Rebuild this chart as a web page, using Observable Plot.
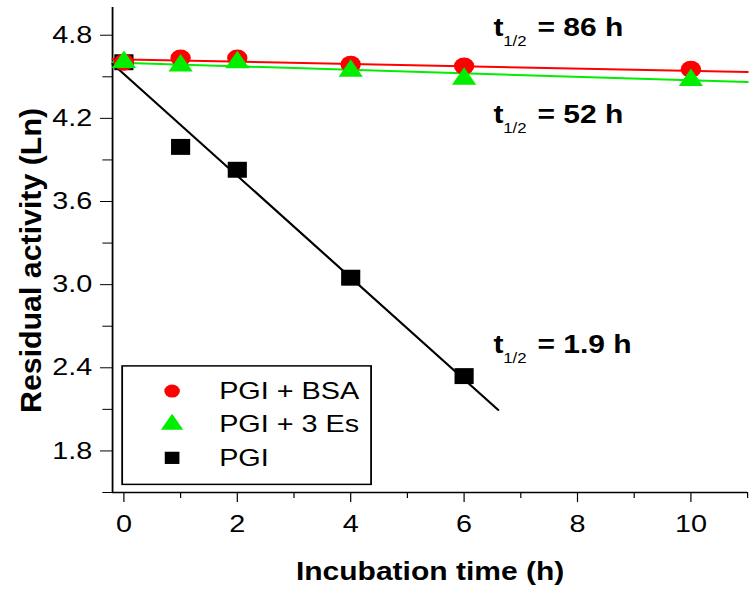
<!DOCTYPE html>
<html><head><meta charset="utf-8">
<script src="https://cdn.jsdelivr.net/npm/d3@7"></script>
<script src="https://cdn.jsdelivr.net/npm/@observablehq/plot@0.6"></script>
<style>
html,body{margin:0;padding:0;background:#fff;overflow:hidden;}
#wrap{width:630px;height:594px;transform:scaleX(1.2);transform-origin:0 0;}
</style></head><body><div id="wrap"></div>
<script>
// ---- data ----
const times = [0, 1, 2, 4, 6, 10];
const bsaValues = [4.605, 4.635, 4.635, 4.59, 4.577, 4.555];
const esValues = [4.605, 4.58, 4.604, 4.543, 4.485, 4.476];
const pgiTimes = [0, 1, 2, 4, 6];
const pgiValues = [4.605, 3.994, 3.829, 3.05, 2.34];
const seriesNames = ["PGI + BSA", "PGI + 3 Es", "PGI"];
const fitBsaX = [-0.2, 11], fitBsaY = [4.627, 4.534];
const fitEsX = [-0.2, 11], fitEsY = [4.603, 4.462];
const fitPgiX = [-0.2, 6.6], fitPgiY = [4.593, 2.096];
const halfLives = ["86", "52", "1.9"];
const xTicks = [0, 2, 4, 6, 8, 10];
const xMinorTicks = [1, 3, 5, 7, 9, 11];
const yTicks = [1.8, 2.4, 3.0, 3.6, 4.2, 4.8];
const yMinorTicks = [1.5, 2.1, 2.7, 3.3, 3.9, 4.5];
const xLabel = "Incubation time (h)";
const yLabel = "Residual activity (Ln)";

// ---- styles / layout ----
const colors = ["#ff0000", "#00ee00", "#000000"];
const symbols = ["circle", "triangle", "square"];
const markerR = [8.5, 7.5, 9];
const legendR = [6.5, 6.9, 6.9];
const annoPos = [{x: 6.52, y: 4.793}, {x: 6.52, y: 4.167}, {x: 6.52, y: 2.505}];
const legendBox = {x1: -0.02, x2: 4.37, y1: 1.555, y2: 2.41};
const legendMarkerX = 0.85, legendTextX = 1.68, legendTopY = 2.232, legendStep = 0.241;

const pts = (xs, ys) => xs.map((x, i) => ({x, y: ys[i]}));
const series = [pts(times, bsaValues), pts(times, esValues), pts(pgiTimes, pgiValues)];
const fits = [pts(fitBsaX, fitBsaY), pts(fitEsX, fitEsY), pts(fitPgiX, fitPgiY)];
const annos = halfLives.map((h, i) => ({x: annoPos[i].x, y: annoPos[i].y, text: "= " + h + " h"}));
const legendItems = seriesNames.map((name, i) => ({name, i, y: legendTopY - i * legendStep}));

const chart = Plot.plot({
  width: 630, height: 594,
  marginLeft: 93.3, marginRight: 7.5, marginTop: 7, marginBottom: 102,
  x: {domain: [-0.2, 11]},
  y: {domain: [1.5, 5.0]},
  style: {fontFamily: "'Liberation Sans', Arial, sans-serif", fontSize: "24px", color: "black", background: "white", overflow: "visible"},
  marks: [
    Plot.ruleY([1.5], {strokeWidth: 1.5}),
    Plot.ruleX([-0.2], {strokeWidth: 1.5}),
    Plot.axisX({ticks: xTicks, tickSize: 10, tickPadding: 12, label: null, tickFormat: d3.format("d")}),
    Plot.axisX({ticks: xMinorTicks, tickSize: 6, label: null, tickFormat: () => ""}),
    Plot.axisY({ticks: yTicks, tickSize: 10, tickPadding: 7, label: null, tickFormat: d3.format(".1f")}),
    Plot.axisY({ticks: yMinorTicks, tickSize: 8, label: null, tickFormat: () => ""}),
    ...fits.map((f, i) => Plot.line(f, {x: "x", y: "y", stroke: colors[i], strokeWidth: 2})),
    Plot.dot(series[2], {x: "x", y: "y", symbol: symbols[2], fill: colors[2], r: markerR[2]}),
    Plot.dot(series[0], {x: "x", y: "y", symbol: symbols[0], fill: colors[0], r: markerR[0]}),
    Plot.dot(series[1], {x: "x", y: "y", symbol: symbols[1], fill: colors[1], r: markerR[1]}),
    Plot.text(annos, {x: "x", y: "y", text: () => "t", textAnchor: "start", lineAnchor: "bottom", fontSize: 25, fontWeight: "bold"}),
    Plot.text(annos, {x: "x", y: "y", text: () => "1/2", textAnchor: "start", lineAnchor: "bottom", fontSize: 14, dx: 8, dy: 10}),
    Plot.text(annos, {x: "x", y: "y", text: "text", textAnchor: "start", lineAnchor: "bottom", fontSize: 25, fontWeight: "bold", dx: 36.5}),
    Plot.rect([legendBox], {x1: "x1", x2: "x2", y1: "y1", y2: "y2", fill: "white", stroke: "black", strokeWidth: 1.5}),
    ...legendItems.map((d) => Plot.dot([d], {x: () => legendMarkerX, y: "y", symbol: symbols[d.i], fill: colors[d.i], r: legendR[d.i]})),
    Plot.text(legendItems, {x: () => legendTextX, y: "y", text: "name", textAnchor: "start", fontSize: 24}),
    Plot.text([xLabel], {frameAnchor: "bottom", text: (d) => d, dy: 87, lineAnchor: "bottom", fontSize: 25, fontWeight: "bold"}),
    Plot.text([yLabel], {frameAnchor: "left", text: (d) => d, textAnchor: "middle", dx: -68, dy: 10.5, rotate: -90, fontSize: 25, fontWeight: "bold"})
  ]
});
// the reference's vertical title is set a little wider than the font's natural length
const yTitle = [...chart.querySelectorAll("text")].find((t) => t.textContent === yLabel);
if (yTitle) { yTitle.setAttribute("textLength", 305); yTitle.setAttribute("lengthAdjust", "spacingAndGlyphs"); }
document.getElementById("wrap").appendChild(chart);
</script></body></html>
